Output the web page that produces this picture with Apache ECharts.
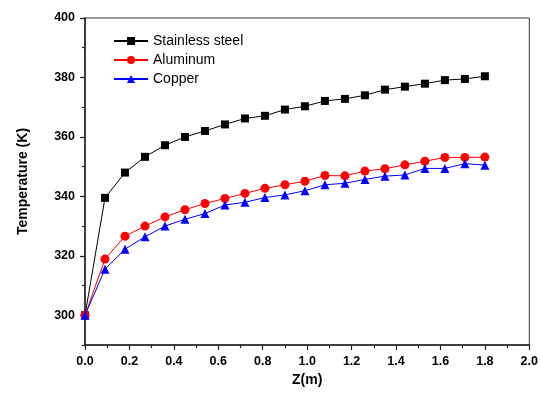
<!DOCTYPE html>
<html>
<head>
<meta charset="utf-8">
<script src="https://cdn.jsdelivr.net/npm/echarts@6/dist/echarts.min.js"></script>
<style>
  html, body { margin: 0; padding: 0; background: #fff; }
  #chart { width: 541px; height: 396px; }
</style>
</head>
<body>
<div id="chart"></div>
<script>
// Axial position along the tube (m)
const zPositions = [0, 0.09, 0.18, 0.27, 0.36, 0.45, 0.54, 0.63, 0.72, 0.81, 0.9,
  0.99, 1.08, 1.17, 1.26, 1.35, 1.44, 1.53, 1.62, 1.71, 1.8];

// Temperature (K) for each wall material
const stainlessSteel = [300, 339.5, 348.0, 353.3, 357.2, 360.0, 362.0, 364.2, 366.2, 367.1, 369.2,
  370.3, 372.1, 372.8, 374.0, 375.9, 376.9, 377.9, 379.1, 379.5, 380.4];
const aluminum = [300, 318.9, 326.6, 330.0, 333.1, 335.5, 337.6, 339.3, 341.0, 342.7, 343.9,
  345.1, 347.0, 346.9, 348.5, 349.3, 350.6, 351.8, 353.1, 353.1, 353.2];
const copper = [300, 315.5, 322.2, 326.4, 330.0, 332.3, 334.2, 337.1, 338.0, 339.6, 340.5,
  341.9, 343.9, 344.4, 345.7, 346.8, 347.2, 349.4, 349.4, 351.0, 350.5];

const seriesNames = ['Stainless steel', 'Aluminum', 'Copper'];

const pairs = (ys) => zPositions.map((z, i) => [z, ys[i]]);

const font = 'Liberation Sans, Arial, sans-serif';
const axisColor = '#222';

const chart = echarts.init(document.getElementById('chart'), null, { renderer: 'canvas' });

chart.setOption({
  animation: false,
  backgroundColor: '#fff',
  grid: {
    left: 85, right: 10, top: 18, bottom: 51,
    show: true, borderColor: '#333', borderWidth: 1, backgroundColor: 'transparent'
  },
  legend: {
    data: seriesNames,
    orient: 'vertical',
    left: 113, top: 34,
    itemWidth: 34, itemHeight: 10, itemGap: 5,
    textStyle: { fontFamily: font, fontSize: 14, color: '#000', padding: [0, 0, 0, 0] },
    padding: 0
  },
  xAxis: {
    type: 'value',
    min: 0, max: 2, interval: 0.2,
    name: 'Z(m)', nameLocation: 'middle', nameGap: 28,
    nameTextStyle: { fontFamily: font, fontSize: 14, fontWeight: 'bold', color: '#000' },
    axisLine: { show: true, lineStyle: { color: axisColor, width: 1.5 } },
    axisTick: { show: true, length: 5, lineStyle: { color: axisColor, width: 1.2 } },
    minorTick: { show: true, splitNumber: 2, length: 3, lineStyle: { color: axisColor, width: 1.2 } },
    splitLine: { show: false },
    axisLabel: {
      fontFamily: font, fontSize: 12.5, fontWeight: 'bold', color: '#000', margin: 10,
      formatter: (v) => v.toFixed(1)
    }
  },
  yAxis: [
    {
      type: 'value',
      min: 290, max: 400, splitNumber: 5,
      name: 'Temperature (K)', nameLocation: 'middle', nameGap: 55,
      nameTextStyle: { fontFamily: font, fontSize: 14, fontWeight: 'bold', color: '#000' },
      axisLine: { show: true, lineStyle: { color: axisColor, width: 1.5 } },
      axisTick: { show: true, length: 5, lineStyle: { color: axisColor, width: 1.2 } },
      splitLine: { show: false },
      axisLabel: {
        fontFamily: font, fontSize: 12.5, fontWeight: 'bold', color: '#000', margin: 10,
        showMinLabel: false,
        formatter: (v) => (v % 20 === 0 ? String(v) : '')
      }
    },
    {
      // minor ticks every 10 K
      type: 'value',
      position: 'left',
      min: 290, max: 400, interval: 10,
      axisLine: { show: false },
      axisTick: { show: true, length: 3, lineStyle: { color: axisColor, width: 1.2 } },
      axisLabel: { show: false },
      splitLine: { show: false }
    }
  ],
  series: [
    {
      name: seriesNames[0], type: 'line', data: pairs(stainlessSteel),
      symbol: 'rect', symbolSize: 8,
      lineStyle: { color: '#000', width: 1 },
      itemStyle: { color: '#000' }, z: 3
    },
    {
      name: seriesNames[1], type: 'line', data: pairs(aluminum),
      symbol: 'circle', symbolSize: 9,
      lineStyle: { color: '#ff0000', width: 1 },
      itemStyle: { color: '#ff0000' }, z: 4
    },
    {
      name: seriesNames[2], type: 'line', data: pairs(copper),
      symbol: 'triangle', symbolSize: 9,
      lineStyle: { color: '#0000ff', width: 1 },
      itemStyle: { color: '#0000ff' }, z: 5
    }
  ]
});
</script>
</body>
</html>
